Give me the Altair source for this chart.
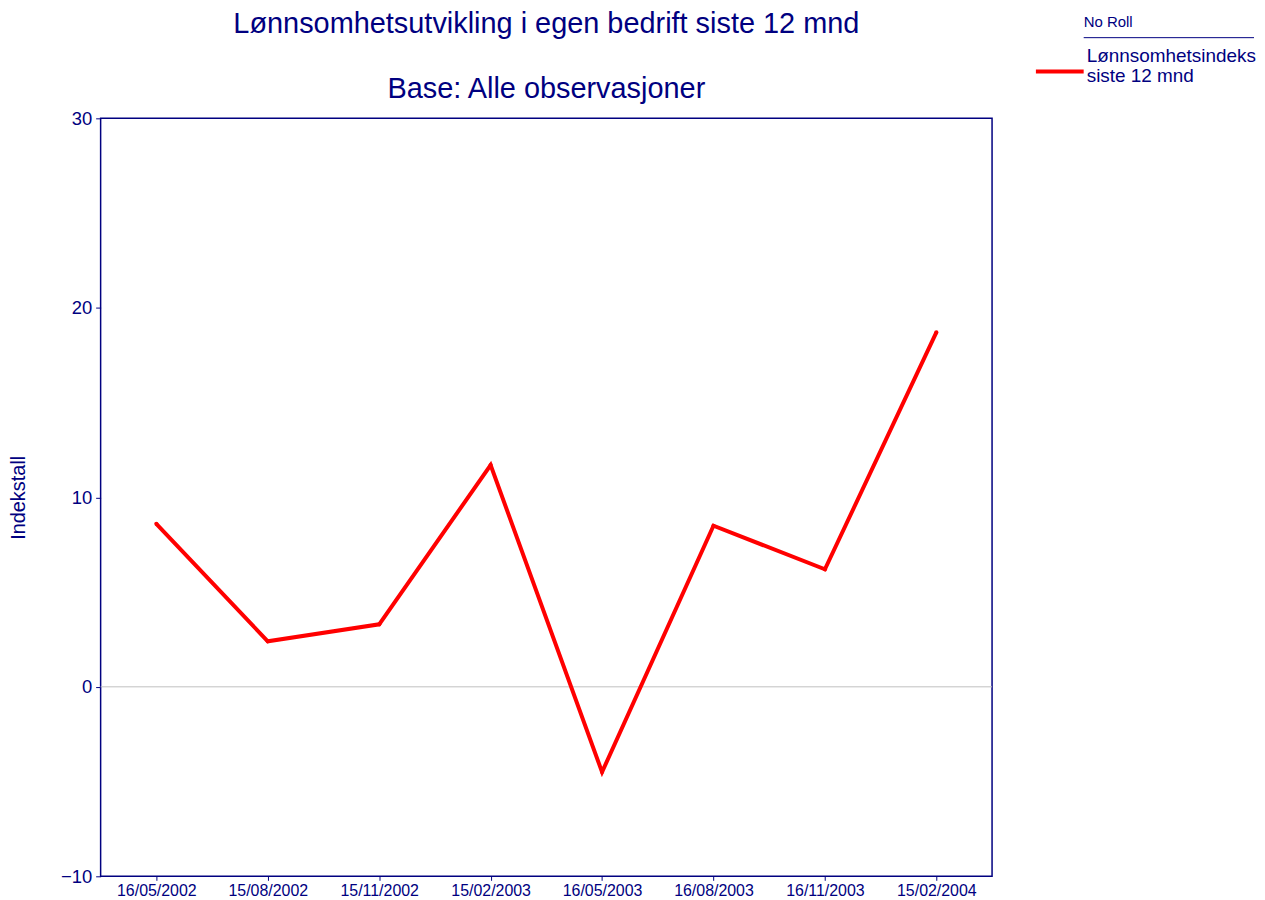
import altair as alt
import pandas as pd

dates = ["16/05/2002", "15/08/2002", "15/11/2002", "15/02/2003",
         "16/05/2003", "16/08/2003", "16/11/2003", "15/02/2004"]
values = [8.6, 2.4, 3.3, 11.7, -4.5, 8.5, 6.2, 18.7]
series_name = "Lønnsomhetsindeks siste 12 mnd"
series_label_lines = ["Lønnsomhetsindeks", "siste 12 mnd"]
legend_heading = "No Roll"
y_ticks = [-10, 0, 10, 20, 30]
title_lines = ["Lønnsomhetsutvikling i egen bedrift siste 12 mnd", "Base: Alle observasjoner"]

NAVY = "#000080"
FONT = "Liberation Sans"

df = pd.DataFrame({"dato": dates, "verdi": values, "serie": [series_name] * len(dates)})
zero = pd.DataFrame({"v": [0]})
heading = pd.DataFrame({"t": [legend_heading]})

x = alt.X("dato:N", sort=dates, title=None,
          scale=alt.Scale(type="point", padding=0.5),
          axis=alt.Axis(labelAngle=0, labelColor=NAVY, labelFontSize=16, labelFont=FONT,
                        tickColor=NAVY, tickSize=4, domain=False, labelPadding=2))
y = alt.Y("verdi:Q", title="Indekstall",
          scale=alt.Scale(domain=[-10, 30], nice=False),
          axis=alt.Axis(values=y_ticks, grid=False, labelColor=NAVY, labelFontSize=18.5,
                        labelFont=FONT, tickColor=NAVY, tickSize=5, domain=False,
                        titleColor=NAVY, titleFontSize=20, titleFont=FONT,
                        titleFontWeight="normal", titlePadding=32, labelPadding=4))

rule = alt.Chart(zero).mark_rule(color="#c0c0c0", strokeWidth=1).encode(y=alt.Y("v:Q"))

label_expr = "[" + ", ".join("'" + s + "'" for s in series_label_lines) + "]"

line = alt.Chart(df).mark_line(strokeWidth=4, point=alt.OverlayMarkDef(size=18, filled=True, color="#ff0000")).encode(
    x=x, y=y,
    color=alt.Color("serie:N", scale=alt.Scale(domain=[series_name], range=["#ff0000"]),
                    legend=alt.Legend(
                        title=None, orient="none", legendX=937, legendY=-79,
                        labelColor=NAVY, labelFont=FONT, labelFontSize=19,
                        labelBaseline="bottom",
                        labelExpr=label_expr,
                        labelLimit=300, symbolType="M-1,0.25L1,0.25", symbolSize=2300,
                        symbolStrokeWidth=4, labelOffset=1)),
)

head = alt.Chart(heading).mark_text(align="left", baseline="middle", font=FONT, fontSize=15,
                                    color=NAVY).encode(
    text="t:N", x=alt.value(987), y=alt.value(-97))

underline = alt.Chart(zero).mark_rule(color=NAVY, strokeWidth=1).encode(
    x=alt.value(987), x2=alt.value(1158), y=alt.value(-81))

chart = alt.layer(rule, line, head, underline).properties(
    width=895, height=761,
    padding={"left": 0, "top": 0, "right": 0, "bottom": 0},
    title=alt.Title(title_lines,
                    fontSize=29, font=FONT, color=NAVY, fontWeight="normal",
                    lineHeight=66, anchor="middle", frame="group", offset=-90),
).configure_view(stroke=NAVY, strokeWidth=1.5)

chart.save("out.html", embed_options={"renderer": "svg", "actions": False})
